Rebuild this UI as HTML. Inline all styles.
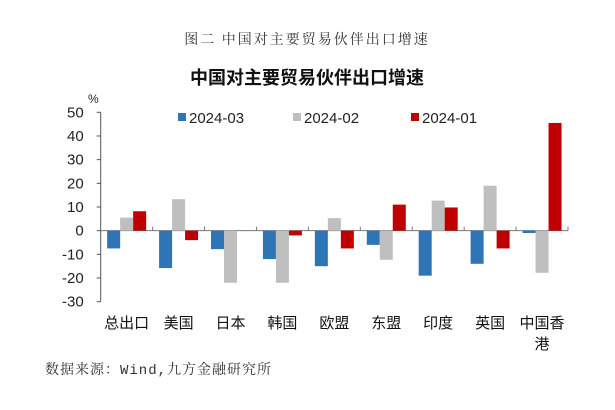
<!DOCTYPE html>
<html><head><meta charset="utf-8"><style>
body{margin:0;background:#fff;width:615px;height:405px;overflow:hidden;font-family:"Liberation Sans","Noto Sans CJK SC",sans-serif}
</style></head><body>
<svg width="615" height="405">
<text x="307" y="44" text-anchor="middle" font-size="14" letter-spacing="2" fill="#333" font-family="'Liberation Serif','Noto Serif CJK SC',serif">图二  中国对主要贸易伙伴出口增速</text>
<text x="307" y="84" text-anchor="middle" font-size="18" font-weight="bold" fill="#111">中国对主要贸易伙伴出口增速</text>
<text x="88" y="103" font-size="12" fill="#222">%</text>
<g id="axes"></g><g id="bars"></g><g id="legend"></g>
<text x="45" y="374" font-size="14" letter-spacing="1" fill="#333" font-family="'Liberation Mono','Noto Serif CJK SC',monospace">数据来源：Wind,九方金融研究所</text>
</svg>
<script>
const categories=["总出口","美国","日本","韩国","欧盟","东盟","印度","英国","中国香港"];
const seriesNames=["2024-03","2024-02","2024-01"];
const s03=[-7.5,-15.8,-7.8,-12,-15,-6,-19,-14,-1];
const s02=[5.5,13.3,-22,-22,5.3,-12.3,12.7,19,-17.8];
const s01=[8.2,-4,0,-2,-7.5,11,9.8,-7.5,45.5];
const yTicks=[50,40,30,20,10,0,-10,-20,-30];
const colors=["#2e75b6","#bfbfbf","#c00000"];
const NS="http://www.w3.org/2000/svg";
const x0=100.7,x1=568,yTop=112.3,yBot=301.7,vMax=50,vMin=-30;
const y=v=>yTop+(vMax-v)*(yBot-yTop)/(vMax-vMin);
const cw=(x1-x0)/categories.length;
function mk(t,a,p){const e=document.createElementNS(NS,t);for(const k in a)e.setAttribute(k,a[k]);p.appendChild(e);return e;}
const ax=document.getElementById('axes');
let l=mk('line',{x1:x0,y1:yTop,x2:x0,y2:yBot,stroke:'#555'},ax);


yTicks.forEach(v=>{
 mk('line',{x1:x0-4,y1:y(v),x2:x0,y2:y(v),stroke:'#555'},ax);
 const t=mk('text',{x:x0-17,y:y(v)+5,'text-anchor':'end','font-size':15,fill:'#222'},ax);t.textContent=v;
 
 
});
const za=mk('line',{x1:x0,y1:y(0),x2:x1,y2:y(0),stroke:'#777'},ax);


categories.forEach((c,i)=>{
 const xe=x0+cw*(i+1);
 mk('line',{x1:xe,y1:y(0)-4,x2:xe,y2:y(0),stroke:'#777'},ax);
 const cx=x0+cw*(i+0.5);
 const t=mk('text',{x:cx,y:328,'text-anchor':'middle','font-size':15,fill:'#111'},ax);
 
 
 if(c.length>3){t.textContent=c.slice(0,3);const t2=mk('text',{x:cx,y:349,'text-anchor':'middle','font-size':15,fill:'#111'},ax);t2.textContent=c.slice(3);}
 else t.textContent=c;
});
const bg=document.getElementById('bars');
const bw=13;
[s03,s02,s01].forEach((s,si)=>{
 s.forEach((v,i)=>{
  const bx=x0+cw*(i+0.5)-1.5*bw+si*bw;
  const r=mk('rect',{x:bx,y:Math.min(y(v),y(0)),width:bw,height:Math.abs(y(v)-y(0)),fill:colors[si]},bg);
  
  
 });
});
const lg=document.getElementById('legend');
const lx=[178,293,411];
seriesNames.forEach((n,i)=>{
 const r=mk('rect',{x:lx[i],y:113,width:8,height:8,fill:colors[i]},lg);
 
 
 const t=mk('text',{x:lx[i]+11,y:123,'font-size':15,fill:'#222'},lg);t.textContent=n;
 
 
});
</script>
</body></html>
